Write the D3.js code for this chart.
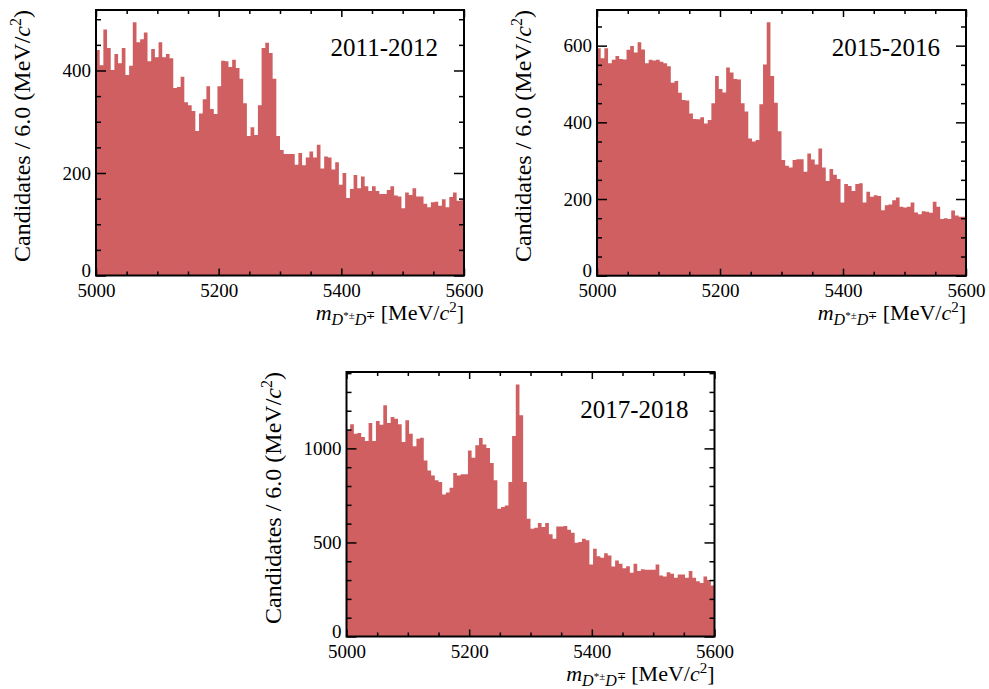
<!DOCTYPE html>
<html>
<head>
<meta charset="utf-8">
<script src="https://cdn.jsdelivr.net/npm/d3@7"></script>
<style>
  body { margin: 0; background: #fff; }
  svg { display: block; }
</style>
</head>
<body>
<svg id="chart"></svg>
<script>
const svgWidth = 989, svgHeight = 689;

// mass range, 6 MeV bins
const massMin = 5000, massMax = 5600, binWidth = 6;
const massTicks = [5000, 5200, 5400, 5600];

const periods = ["2011-2012", "2015-2016", "2017-2018"];

// candidates per bin
const counts2011 = [
  440, 410, 480, 444, 401, 432, 414, 444, 391, 409,
  494, 455, 461, 474, 418, 442, 426, 455, 426, 432,
  424, 366, 368, 388, 338, 332, 321, 282, 316, 344,
  369, 325, 315, 369, 419, 418, 407, 421, 405, 384,
  336, 272, 289, 274, 332, 444, 454, 434, 384, 272,
  245, 237, 237, 237, 216, 239, 215, 230, 242, 230,
  255, 209, 232, 230, 207, 221, 177, 200, 151, 169,
  196, 170, 193, 174, 165, 174, 165, 159, 159, 167,
  174, 156, 154, 131, 162, 157, 170, 154, 154, 140,
  133, 143, 144, 136, 149, 133, 153, 162, 146, 147
];
const counts2015 = [
  593, 567, 593, 554, 563, 573, 565, 564, 589, 599,
  582, 609, 590, 554, 563, 561, 563, 558, 554, 546,
  503, 508, 477, 458, 457, 423, 409, 408, 413, 397,
  406, 450, 521, 487, 478, 543, 530, 513, 512, 450,
  428, 358, 350, 354, 447, 551, 661, 521, 451, 377,
  302, 287, 282, 302, 304, 304, 271, 319, 303, 290,
  332, 282, 247, 278, 263, 252, 191, 239, 234, 221,
  239, 241, 191, 219, 206, 210, 208, 171, 184, 186,
  197, 204, 180, 178, 180, 191, 165, 160, 168, 167,
  164, 193, 180, 148, 150, 148, 170, 157, 154, 154
];
const counts2017 = [
  1096, 1128, 1078, 1082, 1060, 1039, 1135, 1039, 1145, 1126,
  1229, 1135, 1167, 1158, 1128, 1034, 1149, 1078, 1011, 1051,
  1057, 936, 883, 856, 830, 821, 755, 766, 791, 869,
  856, 862, 862, 989, 950, 1016, 1055, 1021, 1002, 922,
  830, 679, 688, 697, 821, 1066, 1340, 1176, 821, 626,
  573, 578, 603, 582, 603, 543, 520, 585, 585, 587,
  567, 551, 498, 502, 520, 511, 383, 466, 426, 418,
  443, 431, 372, 404, 387, 363, 374, 339, 387, 348,
  358, 355, 355, 355, 383, 324, 319, 342, 333, 312,
  330, 330, 312, 348, 312, 294, 284, 319, 301, 271
];

// y axis tick values per panel
const yTicks2011 = [0, 200, 400];
const yTicks2015 = [0, 200, 400, 600];
const yTicks2017 = [0, 500, 1000];

const barColor = "#cf5f60";
const serif = "'Liberation Serif', 'Times New Roman', serif";

const chart = d3.select("#chart")
    .attr("width", svgWidth)
    .attr("height", svgHeight);

const panels = [
    {left: 96,    top: 10,  width: 368, height: 265.5, counts: counts2011, yMax: 518,  yTicks: yTicks2011, yMinor: 50,  label: periods[0]},
    {left: 597,   top: 10,  width: 369, height: 265.7, counts: counts2015, yMax: 693,  yTicks: yTicks2015, yMinor: 50,  label: periods[1]},
    {left: 346.5, top: 372, width: 368, height: 264.5, counts: counts2017, yMax: 1406, yTicks: yTicks2017, yMinor: 100, label: periods[2]}
];

panels.forEach(drawPanel);

function drawPanel(p) {
    var g = chart.append("g")
        .attr("transform", `translate(${p.left},${p.top})`);

    var xScale = d3.scaleLinear().domain([massMin, massMax]).range([0, p.width]);
    var yScale = d3.scaleLinear().domain([0, p.yMax]).range([p.height, 0]);

    // histogram as a step area
    var bins = p.counts.map((v, i) => ({m: massMin + i * binWidth, v: v}));
    bins.push({m: massMax, v: p.counts[p.counts.length - 1]});

    var area = d3.area()
        .x(d => xScale(d.m))
        .y0(yScale(0))
        .y1(d => yScale(d.v))
        .curve(d3.curveStepAfter);

    g.append("path")
        .datum(bins)
        .attr("d", area)
        .attr("fill", barColor);

    var xMinor = d3.range(massMin, massMax + 1, 50).filter(d => massTicks.indexOf(d) < 0);
    var yMinor = d3.range(0, p.yMax, p.yMinor).filter(d => p.yTicks.indexOf(d) < 0);

    // ticks on all four sides, pointing inwards
    g.append("g").attr("transform", `translate(0,${p.height})`)
        .call(d3.axisBottom(xScale).tickValues(massTicks).tickSizeInner(-7).tickSizeOuter(0)
            .tickPadding(8).tickFormat(d3.format("d")));
    g.append("g").attr("transform", `translate(0,${p.height})`)
        .call(d3.axisBottom(xScale).tickValues(xMinor).tickSizeInner(-4).tickSizeOuter(0).tickFormat(""));
    g.append("g")
        .call(d3.axisTop(xScale).tickValues(massTicks).tickSizeInner(-7).tickSizeOuter(0).tickFormat(""));
    g.append("g")
        .call(d3.axisTop(xScale).tickValues(xMinor).tickSizeInner(-4).tickSizeOuter(0).tickFormat(""));

    var yAxis = g.append("g")
        .call(d3.axisLeft(yScale).tickValues(p.yTicks).tickSizeInner(-10).tickSizeOuter(0)
            .tickPadding(5).tickFormat(d3.format("d")));
    // the zero label sits a little higher, clear of the x labels
    yAxis.selectAll(".tick text").filter(d => d === 0).attr("dy", "0.06em");

    g.append("g")
        .call(d3.axisLeft(yScale).tickValues(yMinor).tickSizeInner(-5).tickSizeOuter(0).tickFormat(""));
    g.append("g").attr("transform", `translate(${p.width},0)`)
        .call(d3.axisRight(yScale).tickValues(p.yTicks).tickSizeInner(-10).tickSizeOuter(0).tickFormat(""));
    g.append("g").attr("transform", `translate(${p.width},0)`)
        .call(d3.axisRight(yScale).tickValues(yMinor).tickSizeInner(-5).tickSizeOuter(0).tickFormat(""));

    g.selectAll(".domain").remove();
    g.selectAll(".tick line").attr("stroke", "#000").attr("stroke-width", 1.5);
    g.selectAll(".tick text")
        .style("font-family", serif)
        .style("font-size", "19px")
        .attr("fill", "#000");

    // frame
    g.append("rect")
        .attr("width", p.width)
        .attr("height", p.height)
        .attr("fill", "none")
        .attr("stroke", "#000")
        .attr("stroke-width", 2);

    // data taking period
    g.append("text")
        .attr("x", p.width - 26)
        .attr("y", 45.7)
        .attr("text-anchor", "end")
        .style("font-family", serif)
        .style("font-size", "25px")
        .text(p.label);

    // y title, aligned to the top of the frame
    var yt = g.append("text")
        .attr("transform", "rotate(-90)")
        .attr("x", 0)
        .attr("y", -66)
        .attr("text-anchor", "end")
        .style("font-family", serif)
        .style("font-size", "24px");
    yt.append("tspan").text("Candidates / 6.0 (MeV/");
    yt.append("tspan").attr("font-style", "italic").text("c");
    yt.append("tspan").style("font-size", "16px").attr("dy", -9).text("2");
    yt.append("tspan").attr("dy", 9).text(")");

    // x title, aligned to the right of the frame
    var xt = g.append("text")
        .attr("x", p.width)
        .attr("y", p.height + 44.5)
        .attr("text-anchor", "end")
        .style("font-family", serif)
        .style("font-size", "22px");
    xt.append("tspan").attr("font-style", "italic").text("m");
    xt.append("tspan").attr("font-style", "italic").style("font-size", "16px").attr("dy", 5).text("D");
    xt.append("tspan").style("font-size", "11px").attr("dy", -6).text("*±");
    xt.append("tspan").attr("font-style", "italic").style("font-size", "16px").attr("dy", 6).text("D");
    xt.append("tspan").style("font-size", "11px").attr("dy", -6).text("∓");
    xt.append("tspan").attr("dy", 1).text(" [MeV/");
    xt.append("tspan").attr("font-style", "italic").text("c");
    xt.append("tspan").style("font-size", "15px").attr("dy", -8).text("2");
    xt.append("tspan").attr("dy", 8).text("]");
}
</script>
</body>
</html>
